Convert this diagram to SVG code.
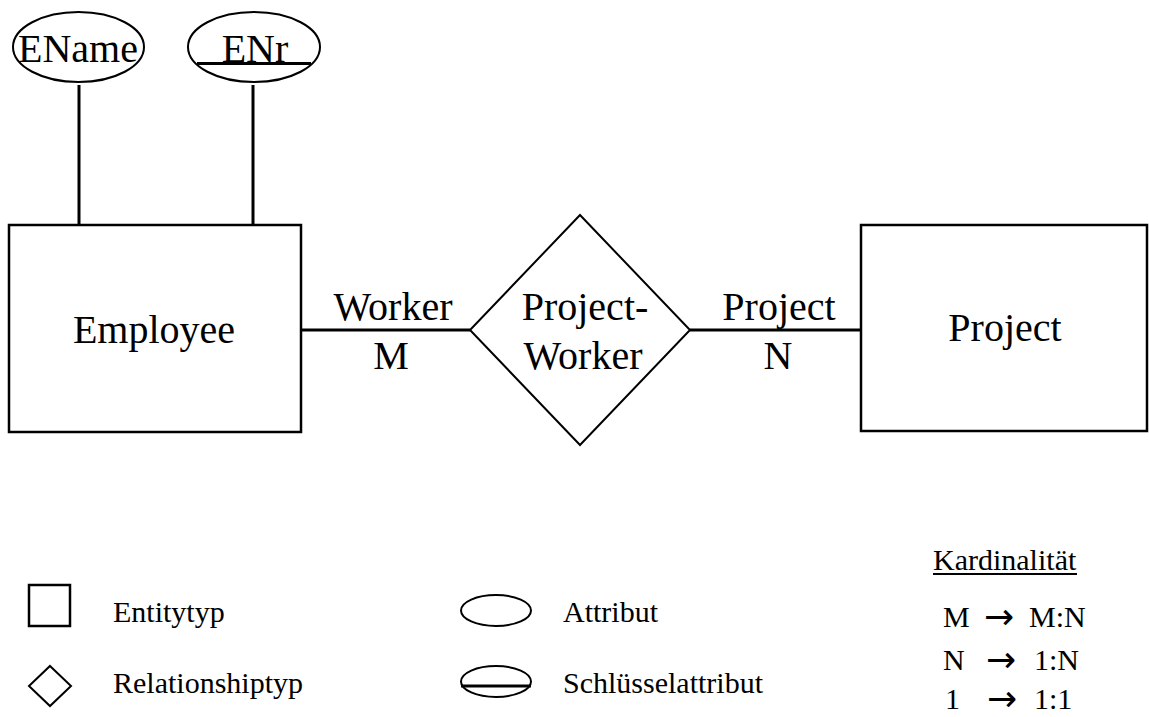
<svg xmlns="http://www.w3.org/2000/svg" width="1149" height="717" viewBox="0 0 1149 717">
  <style>
    .bg { fill: #ffffff; }
    .shape { fill: #ffffff; stroke: #000000; }
    .entity { stroke-width: 2.5; }
    .rel { stroke-width: 2; }
    .attr { stroke-width: 2; }
    .link { stroke: #000000; stroke-width: 3; fill: none; }
    .key { stroke: #000000; stroke-width: 3; }
    text { font-family: "Liberation Serif", "Times New Roman", serif; fill: #000000; }
    .big { font-size: 40px; }
    .small { font-size: 30px; }
    .mid { text-anchor: middle; }
    .arrow { font-family: "DejaVu Sans", sans-serif; font-size: 36px; text-anchor: middle; }
  </style>

  <rect class="bg" x="0" y="0" width="1149" height="717"/>

  <!-- connectors -->
  <g id="connectors">
    <line class="link" x1="79" y1="85" x2="79" y2="225"/>
    <line class="link" x1="253" y1="85" x2="253" y2="225"/>
    <line class="link" x1="301" y1="330" x2="470" y2="330"/>
    <line class="link" x1="690" y1="330" x2="861" y2="330"/>
  </g>

  <!-- role labels on the connectors -->
  <g id="role-worker">
    <text class="big mid" x="393" y="320">Worker</text>
    <text class="big mid" x="391" y="369">M</text>
  </g>
  <g id="role-project">
    <text class="big mid" x="779" y="320">Project</text>
    <text class="big mid" x="778" y="369">N</text>
  </g>

  <!-- attributes -->
  <g id="attr-ename">
    <ellipse class="shape attr" cx="78.5" cy="47" rx="65.5" ry="35"/>
    <text class="big mid" x="78" y="62">EName</text>
  </g>
  <g id="attr-enr">
    <ellipse class="shape attr" cx="254" cy="47" rx="66" ry="35"/>
    <text class="big mid" x="255" y="62">ENr</text>
    <line class="key" x1="197" y1="63.5" x2="311" y2="63.5"/>
  </g>

  <!-- entities -->
  <g id="entity-employee">
    <rect class="shape entity" x="9" y="225" width="292" height="207"/>
    <text class="big mid" x="154" y="343">Employee</text>
  </g>
  <g id="entity-project">
    <rect class="shape entity" x="861" y="225" width="286" height="206"/>
    <text class="big mid" x="1005" y="341">Project</text>
  </g>

  <!-- relationship -->
  <g id="rel-project-worker">
    <polygon class="shape rel" points="580,215 690,330 580,445 470,330"/>
    <text class="big mid" x="585" y="320">Project-</text>
    <text class="big mid" x="583" y="369">Worker</text>
  </g>

  <!-- legend -->
  <g id="legend-entity">
    <rect class="shape entity" x="29" y="585" width="41" height="41"/>
    <text class="small" x="113" y="622">Entitytyp</text>
  </g>
  <g id="legend-relationship">
    <polygon class="shape rel" points="50,666 71,686 50,706 29,686"/>
    <text class="small" x="113" y="693">Relationshiptyp</text>
  </g>
  <g id="legend-attribute">
    <ellipse class="shape attr" cx="496" cy="610.5" rx="35" ry="15.5"/>
    <text class="small" x="563" y="622">Attribut</text>
  </g>
  <g id="legend-key">
    <ellipse class="shape attr" cx="496" cy="681.5" rx="35" ry="15.5"/>
    <line class="key" x1="461" y1="686" x2="531" y2="686"/>
    <text class="small" x="563" y="693">Schlüsselattribut</text>
  </g>

  <g id="legend-cardinality">
    <text class="small" x="933" y="570">Kardinalität</text>
    <line stroke="#000000" stroke-width="2" x1="933" y1="574" x2="1077" y2="574"/>
    <text class="small" x="943" y="627">M</text>
    <text class="arrow" x="999" y="629">→</text>
    <text class="small" x="1029" y="627">M:N</text>
    <text class="small" x="943" y="670">N</text>
    <text class="arrow" x="1001" y="672">→</text>
    <text class="small" x="1034" y="670">1:N</text>
    <text class="small" x="945" y="709">1</text>
    <text class="arrow" x="1002" y="711">→</text>
    <text class="small" x="1034" y="709">1:1</text>
  </g>
</svg>
